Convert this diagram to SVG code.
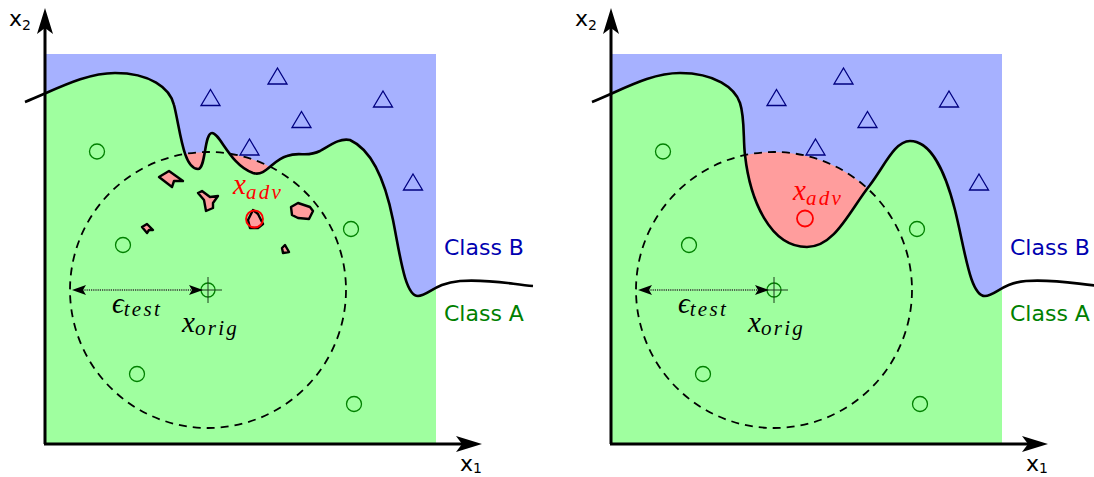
<svg xmlns="http://www.w3.org/2000/svg" xmlns:xlink="http://www.w3.org/1999/xlink" width="1094" height="477" viewBox="0 0 1094 477">
<style>
.blue{fill:#a6b1ff}
.green{fill:#9fff9f}
.red{fill:#ff9d9d}
.bnd{fill:none;stroke:#000;stroke-width:2.6;stroke-linejoin:round}
.blob{fill:#ff9d9d;stroke:#000;stroke-width:2.4;stroke-linejoin:round}
.dash{fill:none;stroke:#000;stroke-width:1.8;stroke-dasharray:8,6}
.tri{fill:none;stroke:#000080;stroke-width:1.3}
.ca{fill:none;stroke:#008000;stroke-width:1.3}
.adv{fill:none;stroke:#ff0000;stroke-width:1.8}
.axis{fill:none;stroke:#000;stroke-width:3}
.head{fill:#000}
.lab{font-family:"DejaVu Sans",sans-serif;font-size:22px}
.ax{font-family:"DejaVu Sans",sans-serif;font-size:22px;fill:#000}
.sub{font-size:14px}
.m{font-family:"Liberation Serif","DejaVu Serif",serif;font-style:italic;font-size:29px;fill:#000}
.ms{font-size:21px;letter-spacing:2.3px}
.dot{fill:none;stroke:#333;stroke-width:1.3;stroke-dasharray:1.2,1}
.cross{fill:none;stroke:#1a3a1a;stroke-width:1}
</style>
<defs>
<path id="tri" d="M0,-8 L9.5,8 L-9.5,8 Z"/>
<clipPath id="clipL"><rect x="46" y="54" width="390" height="389"/></clipPath>
<clipPath id="clipR"><rect x="612" y="54" width="390" height="389"/></clipPath>
</defs>

<g id="panel-left">
  <g id="regions-left" clip-path="url(#clipL)">
    <rect class="blue" x="46" y="54" width="390" height="389"/>
    <circle class="red" cx="208" cy="290" r="138"/>
    <path class="green" d="M25,102 C55,90 85,73 115,73 C150,73 170,88 174,105 C180,128 183,169 198,169 C206,169 204,133 212,133 C220,133 230,165 253,173 C266,177 272,160 287,156 C300,151 306,158 320,151 C332,144 340,138 350,140 C372,150 385,180 393,220 C400,255 405,296 418,296 C428,296 435,283 460,281 C490,279 510,284 535,286 L535,460 L25,460 Z"/>
  </g>
  <g id="blobs-left">
    <path class="blob" d="M159,177 L169,171 L183,181 L174,181 L172,187 Z"/>
    <path class="blob" d="M198,193 L202,191 L210,197 L218,196 L213,203 L213,208 L206,211 L204,200 Z"/>
    <path class="blob" d="M248,220 L253,210 L258,214 L263,224 L258,228 L250,228 Z"/>
    <path class="blob" d="M291,207 L298,203 L310,207 L313,211 L309,219 L298,218 L292,215 Z"/>
    <path class="blob" d="M142,227 L147,224 L153,230 L149,230 L147,233 Z"/>
    <path class="blob" d="M282,248 L285,245 L289,252 L283,253 Z"/>
  </g>
  <circle id="eps-ball-left" class="dash" cx="208" cy="290" r="138"/>
  <path id="boundary-left" class="bnd" d="M25,102 C55,90 85,73 115,73 C150,73 170,88 174,105 C180,128 183,169 198,169 C206,169 204,133 212,133 C220,133 230,165 253,173 C266,177 272,160 287,156 C300,151 306,158 320,151 C332,144 340,138 350,140 C372,150 385,180 393,220 C400,255 405,296 418,296 C428,296 435,283 460,281 C490,279 510,284 533,286"/>
  <g id="classB-left">
    <use href="#tri" xlink:href="#tri" class="tri" x="277.5" y="76"/>
    <use href="#tri" xlink:href="#tri" class="tri" x="210.5" y="97.5"/>
    <use href="#tri" xlink:href="#tri" class="tri" x="301.5" y="119.5"/>
    <use href="#tri" xlink:href="#tri" class="tri" x="383" y="99"/>
    <use href="#tri" xlink:href="#tri" class="tri" x="249.5" y="147"/>
    <use href="#tri" xlink:href="#tri" class="tri" x="413" y="182"/>
  </g>
  <g id="classA-left">
    <circle class="ca" cx="97" cy="151.5" r="7.5"/>
    <circle class="ca" cx="123" cy="245" r="7.5"/>
    <circle class="ca" cx="351" cy="229" r="7.5"/>
    <circle class="ca" cx="137" cy="374" r="7.5"/>
    <circle class="ca" cx="354" cy="404" r="7.5"/>
  </g>
  <circle id="xadv-left" class="adv" cx="254.5" cy="219" r="8.5"/>
  <g id="xorig-left">
    <circle class="ca" cx="208" cy="290" r="7"/>
    <path class="cross" d="M195,290 H222 M208,277 V303"/>
  </g>
  <g id="eps-arrow-left">
    <path class="dot" d="M80,290 H196"/>
    <path class="head" d="M72,290 L86,285 L83,290 L86,295 Z"/>
    <path class="head" d="M203,290 L189,285 L192,290 L189,295 Z"/>
  </g>
  <text class="m" x="112" y="313">ϵ<tspan class="ms" dy="3">test</tspan></text>
  <text class="m" x="182" y="332">x<tspan class="ms" dy="3">orig</tspan></text>
  <text class="m" x="233" y="194" fill="#ff0000" style="fill:#ff0000">x<tspan class="ms" dy="5">adv</tspan></text>
  <text class="lab" x="444" y="255" fill="#0000b0">Class B</text>
  <text class="lab" x="444" y="321" fill="#008000">Class A</text>
  <g id="axes-left">
    <path class="axis" d="M45,444 V28 M44,444 H462"/>
    <path class="head" d="M45,8 L53,34 L45,28 L37,34 Z"/>
    <path class="head" d="M482,444 L456,452 L462,444 L456,436 Z"/>
    <text class="ax" x="9" y="26">x<tspan class="sub" dy="4">2</tspan></text>
    <text class="ax" x="460" y="471">x<tspan class="sub" dy="2">1</tspan></text>
  </g>
</g>

<g id="panel-right">
  <g id="regions-right" clip-path="url(#clipR)">
    <rect class="blue" x="612" y="54" width="390" height="389"/>
    <circle class="red" cx="774" cy="290" r="138"/>
    <path class="green" d="M592,102 C622,90 650,73 680,73 C715,73 735,88 740,103 C745,118 743,140 745,155 C750,200 770,247 807,247 C835,247 850,210 870,185 C885,165 895,141 910,141 C930,141 945,170 955,210 C965,250 970,296 985,296 C995,296 1002,283 1026,281 C1056,279 1076,284 1101,286 L1101,460 L592,460 Z"/>
  </g>
  <circle id="eps-ball-right" class="dash" cx="774" cy="290" r="138"/>
  <path id="boundary-right" class="bnd" d="M592,102 C622,90 650,73 680,73 C715,73 735,88 740,103 C745,118 743,140 745,155 C750,200 770,247 807,247 C835,247 850,210 870,185 C885,165 895,141 910,141 C930,141 945,170 955,210 C965,250 970,296 985,296 C995,296 1002,283 1026,281 C1056,279 1076,284 1101,286"/>
  <g id="classB-right">
    <use href="#tri" xlink:href="#tri" class="tri" x="843.5" y="76"/>
    <use href="#tri" xlink:href="#tri" class="tri" x="776.5" y="97.5"/>
    <use href="#tri" xlink:href="#tri" class="tri" x="867.5" y="119.5"/>
    <use href="#tri" xlink:href="#tri" class="tri" x="949" y="99"/>
    <use href="#tri" xlink:href="#tri" class="tri" x="815.5" y="147"/>
    <use href="#tri" xlink:href="#tri" class="tri" x="979" y="182"/>
  </g>
  <g id="classA-right">
    <circle class="ca" cx="663" cy="151.5" r="7.5"/>
    <circle class="ca" cx="689" cy="245" r="7.5"/>
    <circle class="ca" cx="917" cy="229" r="7.5"/>
    <circle class="ca" cx="703" cy="374" r="7.5"/>
    <circle class="ca" cx="920" cy="404" r="7.5"/>
  </g>
  <circle id="xadv-right" class="adv" cx="805" cy="218.5" r="8"/>
  <g id="xorig-right">
    <circle class="ca" cx="774" cy="290" r="7"/>
    <path class="cross" d="M761,290 H788 M774,277 V303"/>
  </g>
  <g id="eps-arrow-right">
    <path class="dot" d="M646,290 H762"/>
    <path class="head" d="M638,290 L652,285 L649,290 L652,295 Z"/>
    <path class="head" d="M769,290 L755,285 L758,290 L755,295 Z"/>
  </g>
  <text class="m" x="678" y="313">ϵ<tspan class="ms" dy="3">test</tspan></text>
  <text class="m" x="748" y="332">x<tspan class="ms" dy="3">orig</tspan></text>
  <text class="m" x="793" y="200" style="fill:#ff0000">x<tspan class="ms" dy="5">adv</tspan></text>
  <text class="lab" x="1010" y="255" fill="#0000b0">Class B</text>
  <text class="lab" x="1010" y="321" fill="#008000">Class A</text>
  <g id="axes-right">
    <path class="axis" d="M611,444 V28 M610,444 H1028"/>
    <path class="head" d="M611,8 L619,34 L611,28 L603,34 Z"/>
    <path class="head" d="M1048,444 L1022,452 L1028,444 L1022,436 Z"/>
    <text class="ax" x="575" y="26">x<tspan class="sub" dy="4">2</tspan></text>
    <text class="ax" x="1026" y="471">x<tspan class="sub" dy="2">1</tspan></text>
  </g>
</g>
</svg>
